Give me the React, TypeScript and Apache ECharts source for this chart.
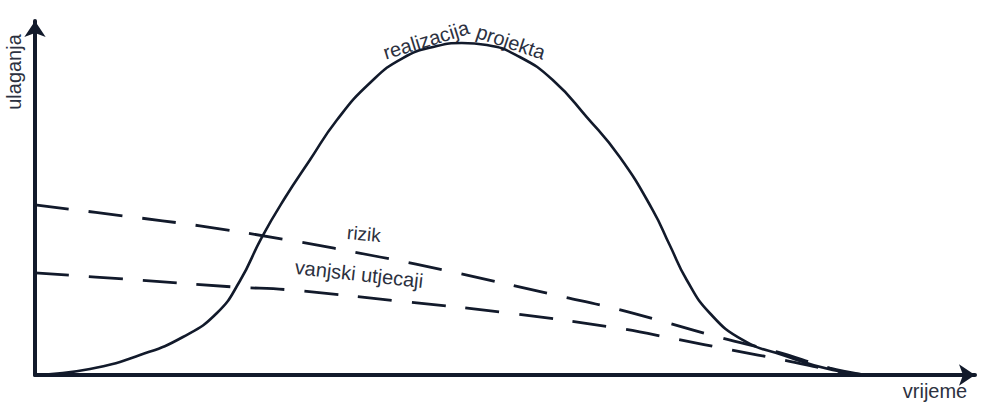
import React, { useEffect, useRef } from "react";
import * as echarts from "echarts";

// time (x) 0..~99, investment (y) 0..~98
const realizacijaProjekta: [number, number][] = [
  [0, 0], [5.8, 1.66], [11.08, 5.52], [15.61, 10.5], [19.2, 17.13], [21.62, 25.97],
  [23.95, 38.12], [26.37, 48.9], [29.01, 59.39], [31.86, 70.44], [35.34, 80.66],
  [38.82, 87.57], [42.41, 90.88], [45.04, 91.71], [47.68, 91.16], [51.16, 87.85],
  [54.64, 81.49], [58.23, 71.27], [61.71, 60.22], [65.19, 45.58], [66.98, 35.91],
  [68.78, 26.24], [71.2, 17.13], [74.68, 9.67], [78.9, 5.52], [84.18, 1.38], [88.08, 0],
];

const rizik: [number, number][] = [
  [0, 47.0], [9.5, 43.9], [17.4, 41.2], [26.7, 37.3], [36.4, 32.6], [44.0, 28.5],
  [55.4, 21.8], [61.0, 18.5], [66.8, 14.4], [72.5, 10.2], [78.3, 6.4], [83.9, 1.9], [87.6, 0],
];

const vanjskiUtjecaji: [number, number][] = [
  [0, 28.2], [9.5, 26.5], [21.1, 24.3], [26.9, 23.5], [38.5, 20.4], [50.1, 17.1],
  [61.4, 13.0], [67.7, 9.9], [73.5, 6.9], [79.1, 4.1], [83.9, 1.4], [87.0, 0],
];

const xAxisName = "vrijeme";
const yAxisName = "ulaganja";
const seriesNames = ["realizacija projekta", "rizik", "vanjski utjecaji"];

const INK = "#121a2b";
const TEXT = "#2c3140";
const FONT = "'Liberation Sans', Arial, sans-serif";

export default function App() {
  const ref = useRef<HTMLDivElement>(null);
  useEffect(() => {
    if (!ref.current) return;
    const chart = echarts.init(ref.current, null, { renderer: "svg" });
    const axisLine = {
      show: true,
      symbol: ["none", "arrow"],
      symbolSize: [16, 16],
      lineStyle: { color: INK, width: 4 },
    };
    const textStyle = (size: number) => ({
      fill: TEXT,
      fontSize: size,
      fontFamily: FONT,
      align: "center",
      verticalAlign: "middle",
    });
    const [realizacija, projekta] = seriesNames[0].split(" ");
    chart.setOption({
      animation: false,
      backgroundColor: "#ffffff",
      grid: { left: 35, right: 9, top: 21, bottom: 27, containLabel: false },
      xAxis: {
        type: "value",
        min: 0,
        max: 99.2,
        axisLine,
        axisTick: { show: false },
        axisLabel: { show: false },
        splitLine: { show: false },
      },
      yAxis: {
        type: "value",
        min: 0,
        max: 97.8,
        axisLine,
        axisTick: { show: false },
        axisLabel: { show: false },
        splitLine: { show: false },
      },
      series: [
        {
          name: seriesNames[0],
          type: "line",
          data: realizacijaProjekta,
          smooth: 0.5,
          showSymbol: false,
          lineStyle: { color: INK, width: 2.6 },
          z: 3,
        },
        {
          name: seriesNames[1],
          type: "line",
          data: rizik,
          smooth: 0.4,
          showSymbol: false,
          lineStyle: { color: INK, width: 2.8, type: [34, 20] },
        },
        {
          name: seriesNames[2],
          type: "line",
          data: vanjskiUtjecaji,
          smooth: 0.4,
          showSymbol: false,
          lineStyle: { color: INK, width: 2.8, type: [34, 20] },
        },
      ],
      graphic: [
        { type: "text", x: 14, y: 72, rotation: Math.PI / 2, style: { text: yAxisName, ...textStyle(20) } },
        { type: "text", x: 935, y: 391, style: { text: xAxisName, ...textStyle(20) } },
        { type: "text", x: 426, y: 40, rotation: 0.3, style: { text: realizacija, ...textStyle(20) } },
        { type: "text", x: 511, y: 42, rotation: -0.32, style: { text: projekta, ...textStyle(20) } },
        { type: "text", x: 364, y: 234, rotation: -0.09, style: { text: seriesNames[1], ...textStyle(19) } },
        { type: "text", x: 359, y: 274, rotation: -0.11, style: { text: seriesNames[2], ...textStyle(20) } },
      ],
    });
    return () => chart.dispose();
  }, []);
  return (
    <div
      ref={ref}
      style={{ position: "fixed", left: 0, top: 0, width: 984, height: 402 }}
    />
  );
}
